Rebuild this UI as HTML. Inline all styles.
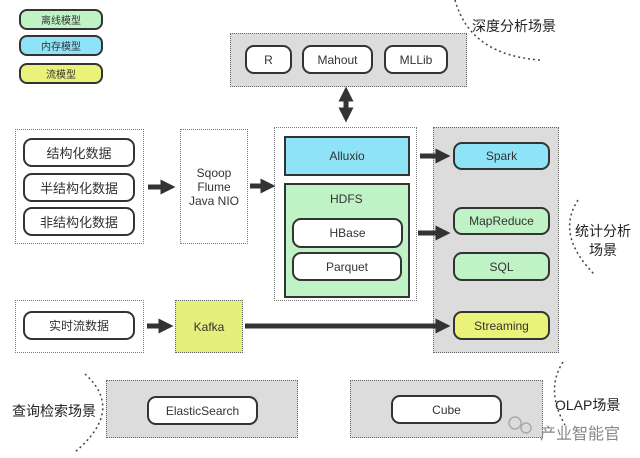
<!DOCTYPE html>
<html><head><meta charset="utf-8"><style>
body{margin:0;width:640px;height:458px;background:#fff;position:relative;overflow:hidden;font-family:"Liberation Sans","Noto Sans CJK SC",sans-serif;}
.a{position:absolute;box-sizing:border-box;}
.g{background:#dcdcdc;border:1.5px dotted #666;}
.w{background:#fff;border:1.5px dotted #777;}
.b{border:2px solid #333;border-radius:9px;display:flex;align-items:center;justify-content:center;font-size:12px;color:#333;background:#fff;}
.t{position:absolute;font-size:14px;color:#222;white-space:nowrap;}
</style></head><body>
<div class="a b" style="left:19px;top:9px;width:84px;height:21px;background:#bff2c4;font-size:10px;border-radius:8px">离线模型</div>
<div class="a b" style="left:19px;top:35px;width:84px;height:21px;background:#8fe3f7;font-size:10px;border-radius:8px">内存模型</div>
<div class="a b" style="left:19px;top:63px;width:84px;height:21px;background:#eaf27a;font-size:10px;border-radius:8px">流模型</div>

<div class="a g" style="left:230px;top:33px;width:237px;height:54px"></div>
<div class="a b" style="left:245px;top:45px;width:47px;height:29px">R</div>
<div class="a b" style="left:302px;top:45px;width:71px;height:29px">Mahout</div>
<div class="a b" style="left:384px;top:45px;width:64px;height:29px">MLLib</div>

<div class="a w" style="left:15px;top:129px;width:129px;height:115px"></div>
<div class="a b" style="left:23px;top:138px;width:112px;height:29px;font-size:13px">结构化数据</div>
<div class="a b" style="left:23px;top:173px;width:112px;height:29px;font-size:13px">半结构化数据</div>
<div class="a b" style="left:23px;top:207px;width:112px;height:29px;font-size:13px">非结构化数据</div>
<div class="a w" style="left:180px;top:129px;width:68px;height:115px;display:flex;align-items:center;justify-content:center;text-align:center;font-size:12px;color:#333;line-height:14px">Sqoop<br>Flume<br>Java NIO</div>

<div class="a w" style="left:274px;top:127px;width:143px;height:174px"></div>
<div class="a" style="left:284px;top:136px;width:126px;height:40px;background:#8fe3f7;border:2px solid #333;display:flex;align-items:center;justify-content:center;font-size:12px;color:#333">Alluxio</div>
<div class="a" style="left:284px;top:183px;width:126px;height:115px;background:#bff2c4;border:2px solid #333;"></div>
<div class="t" style="left:330px;top:192px;font-size:12px;color:#333">HDFS</div>
<div class="a b" style="left:292px;top:218px;width:111px;height:30px">HBase</div>
<div class="a b" style="left:292px;top:252px;width:110px;height:29px">Parquet</div>

<div class="a g" style="left:433px;top:127px;width:126px;height:226px"></div>
<div class="a b" style="left:453px;top:142px;width:97px;height:28px;background:#8fe3f7">Spark</div>
<div class="a b" style="left:453px;top:207px;width:97px;height:28px;background:#bff2c4">MapReduce</div>
<div class="a b" style="left:453px;top:252px;width:97px;height:29px;background:#bff2c4">SQL</div>
<div class="a b" style="left:453px;top:311px;width:97px;height:29px;background:#eaf27a">Streaming</div>

<div class="a w" style="left:15px;top:300px;width:129px;height:53px"></div>
<div class="a b" style="left:23px;top:311px;width:112px;height:29px">实时流数据</div>
<div class="a" style="left:175px;top:300px;width:68px;height:53px;background:#e5ef7c;border:1.5px dotted #666;display:flex;align-items:center;justify-content:center;font-size:12px;color:#333">Kafka</div>

<div class="a g" style="left:106px;top:380px;width:192px;height:58px"></div>
<div class="a b" style="left:147px;top:396px;width:111px;height:29px">ElasticSearch</div>
<div class="a g" style="left:350px;top:380px;width:193px;height:58px"></div>
<div class="a b" style="left:391px;top:395px;width:111px;height:29px">Cube</div>

<div class="t" style="left:472px;top:16px">深度分析场景</div>
<div class="t" style="left:575px;top:222px;line-height:19px;text-align:center">统计分析<br>场景</div>
<div class="t" style="left:12px;top:401px">查询检索场景</div>
<div class="t" style="left:555px;top:395px">OLAP场景</div>
<div class="t" style="left:540px;top:420px;color:#888;font-size:16px">产业智能官</div>

<svg class="a" style="left:0;top:0" width="640" height="458">
<defs><marker id="m" markerWidth="3" markerHeight="3" refX="1.5" refY="1.5" orient="auto"><path d="M0,0L3,1.5L0,3z" fill="#333"/></marker></defs>
<g stroke="#333" stroke-width="5" fill="none">
<line x1="148" y1="187" x2="168" y2="187" marker-end="url(#m)"/>
<line x1="250" y1="186" x2="268" y2="186" marker-end="url(#m)"/>
<line x1="420" y1="156" x2="443" y2="156" marker-end="url(#m)"/>
<line x1="418" y1="233" x2="443" y2="233" marker-end="url(#m)"/>
<line x1="147" y1="326" x2="166" y2="326" marker-end="url(#m)"/>
<line x1="245" y1="326" x2="443" y2="326" marker-end="url(#m)"/>
<line x1="346" y1="96" x2="346" y2="115" marker-end="url(#m)"/>
<line x1="346" y1="115" x2="346" y2="94" marker-end="url(#m)"/>
</g>
<g stroke="#444" stroke-width="1.5" stroke-dasharray="2,3" fill="none">
<path d="M455,0 Q470,55 540,60"/>
<path d="M578,200 Q555,235 595,275"/>
<path d="M85,374 Q125,410 75,452"/>
<path d="M563,362 Q545,390 565,425"/>
</g>
<circle cx="515" cy="423" r="6" fill="none" stroke="#aaa" stroke-width="1.5"/>
<circle cx="526" cy="428" r="5" fill="none" stroke="#aaa" stroke-width="1.5"/>
</svg>
</body></html>
